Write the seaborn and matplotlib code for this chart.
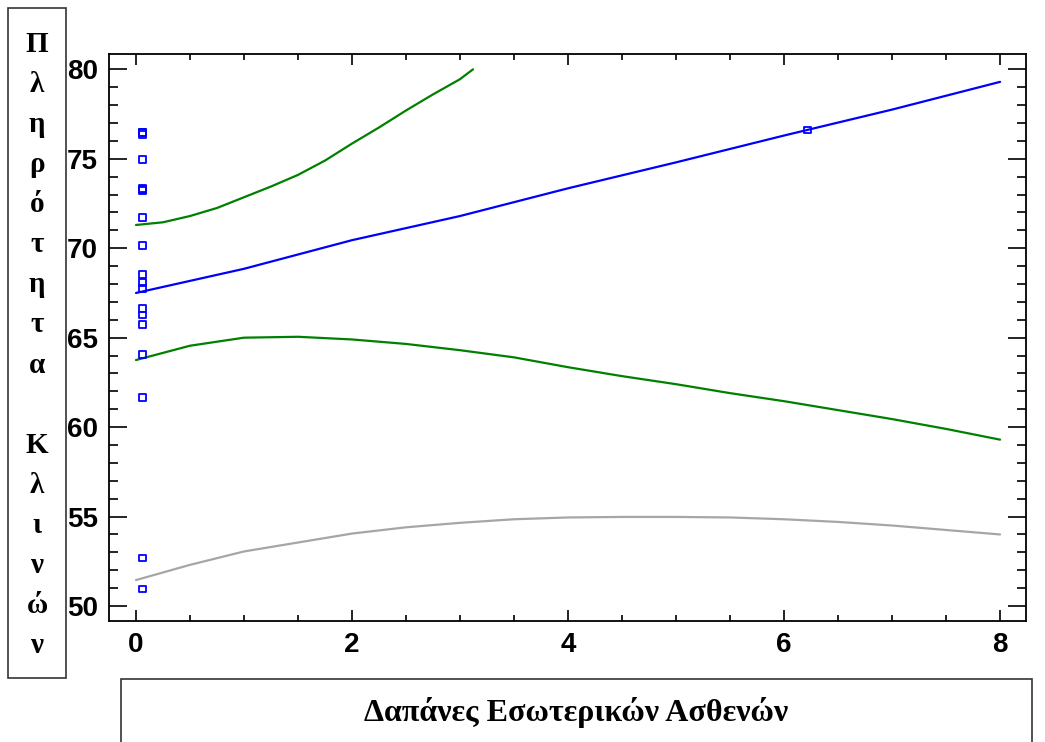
import matplotlib
matplotlib.use("Agg")
import matplotlib.pyplot as plt
from matplotlib.patches import Rectangle
from matplotlib.ticker import MultipleLocator
import pandas as pd
import seaborn as sns

# Παρατηρήσεις (σημεία)
obs_x = [0.06] * 19 + [6.22]
obs_y = [76.48, 76.38, 74.98, 73.33, 73.22, 71.70, 70.15, 68.53, 68.08, 67.77,
         66.61, 66.27, 65.75, 64.04, 61.65, 52.68, 50.95, 76.48, 73.30, 76.61]

# Γραμμή προσαρμογής
fit_x = [0, 1, 2, 3, 4, 5, 6, 7, 8]
fit_y = [67.5, 68.85, 70.45, 71.8, 73.35, 74.8, 76.3, 77.75, 79.3]

# Ανώτερο όριο εμπιστοσύνης
upper_x = [0, 0.25, 0.5, 0.75, 1.0, 1.25, 1.5, 1.75, 2.0, 2.25, 2.5, 2.75, 3.0, 3.12]
upper_y = [71.3, 71.45, 71.8, 72.25, 72.85, 73.45, 74.1, 74.9, 75.85, 76.75, 77.7, 78.6, 79.45, 80.0]

# Κατώτερο όριο εμπιστοσύνης
lower_x = [0, 0.5, 1, 1.5, 2, 2.5, 3, 3.5, 4, 4.5, 5, 5.5, 6, 6.5, 7, 7.5, 8]
lower_y = [63.75, 64.55, 65.0, 65.05, 64.9, 64.65, 64.3, 63.9, 63.35, 62.85, 62.4,
           61.9, 61.45, 60.95, 60.45, 59.9, 59.3]

# Κατώτερο όριο πρόβλεψης
pred_x = [0, 0.5, 1, 1.5, 2, 2.5, 3, 3.5, 4, 4.5, 5, 5.5, 6, 6.5, 7, 7.5, 8]
pred_y = [51.45, 52.3, 53.05, 53.55, 54.05, 54.4, 54.65, 54.85, 54.95, 54.98, 54.98,
          54.95, 54.85, 54.7, 54.5, 54.25, 54.0]

sns.set_style("white")
plt.rcParams["font.family"] = ["Liberation Sans Narrow", "Liberation Sans", "DejaVu Sans"]

fig = plt.figure(figsize=(10.45, 7.42), dpi=100)
ax = fig.add_axes([0.1046, 0.1635, 0.8772, 0.7633])

sns.lineplot(x=upper_x, y=upper_y, color="#008000", lw=1.6, estimator=None, ax=ax)
sns.lineplot(x=fit_x, y=fit_y, color="#0000ff", lw=1.6, estimator=None, ax=ax)
sns.lineplot(x=lower_x, y=lower_y, color="#008000", lw=1.6, estimator=None, ax=ax)
sns.lineplot(x=pred_x, y=pred_y, color="#a6a6a6", lw=1.6, estimator=None, ax=ax)
sns.scatterplot(x=obs_x, y=obs_y, marker="s", s=24, facecolor="none",
                edgecolor="#0000ff", linewidth=1.3, ax=ax, zorder=5)

ax.set_xlim(-0.247, 8.24)
ax.set_ylim(49.18, 80.84)
ax.xaxis.set_major_locator(MultipleLocator(2))
ax.xaxis.set_minor_locator(MultipleLocator(0.5))
ax.yaxis.set_major_locator(MultipleLocator(5))
ax.yaxis.set_minor_locator(MultipleLocator(1))

for s in ax.spines.values():
    s.set_linewidth(1.3)
    s.set_color("black")

ax.tick_params(axis="both", which="both", direction="in", top=True, right=True,
               left=True, bottom=True, width=1.2, color="black", labelcolor="black")
ax.tick_params(axis="y", which="major", length=13, pad=8)
ax.tick_params(axis="y", which="minor", length=6.5)
ax.tick_params(axis="x", which="major", length=8, pad=8)
ax.tick_params(axis="x", which="minor", length=4.5)
for lab in ax.get_xticklabels() + ax.get_yticklabels():
    lab.set_fontsize(20)
    lab.set_fontweight("bold")

ax.set_xlabel("")
ax.set_ylabel("")

# Πλαίσιο τίτλου άξονα y
fig.patches.append(Rectangle((8 / 1045, 1 - 678 / 742), 58 / 1045, 670 / 742,
                             transform=fig.transFigure, fill=False,
                             edgecolor="#333333", lw=1.2))
ylab = "Πληρότητα Κλινών"
fig.text(37 / 1045, 1 - 345 / 742, "\n".join(ylab), ha="center", va="center",
         fontsize=21, fontweight="bold", family=["Liberation Serif", "DejaVu Serif"],
         linespacing=1.62, color="black")

# Πλαίσιο τίτλου άξονα x
fig.patches.append(Rectangle((121 / 1045, -0.05), 911 / 1045, 0.05 + 63 / 742,
                             transform=fig.transFigure, fill=False,
                             edgecolor="#333333", lw=1.2))
fig.text(576 / 1045, 1 - 713 / 742, "Δαπάνες Εσωτερικών Ασθενών", ha="center",
         va="center", fontsize=23, fontweight="bold", color="black",
         family=["Liberation Serif", "DejaVu Serif"])

fig.savefig("out.png", dpi=100)
